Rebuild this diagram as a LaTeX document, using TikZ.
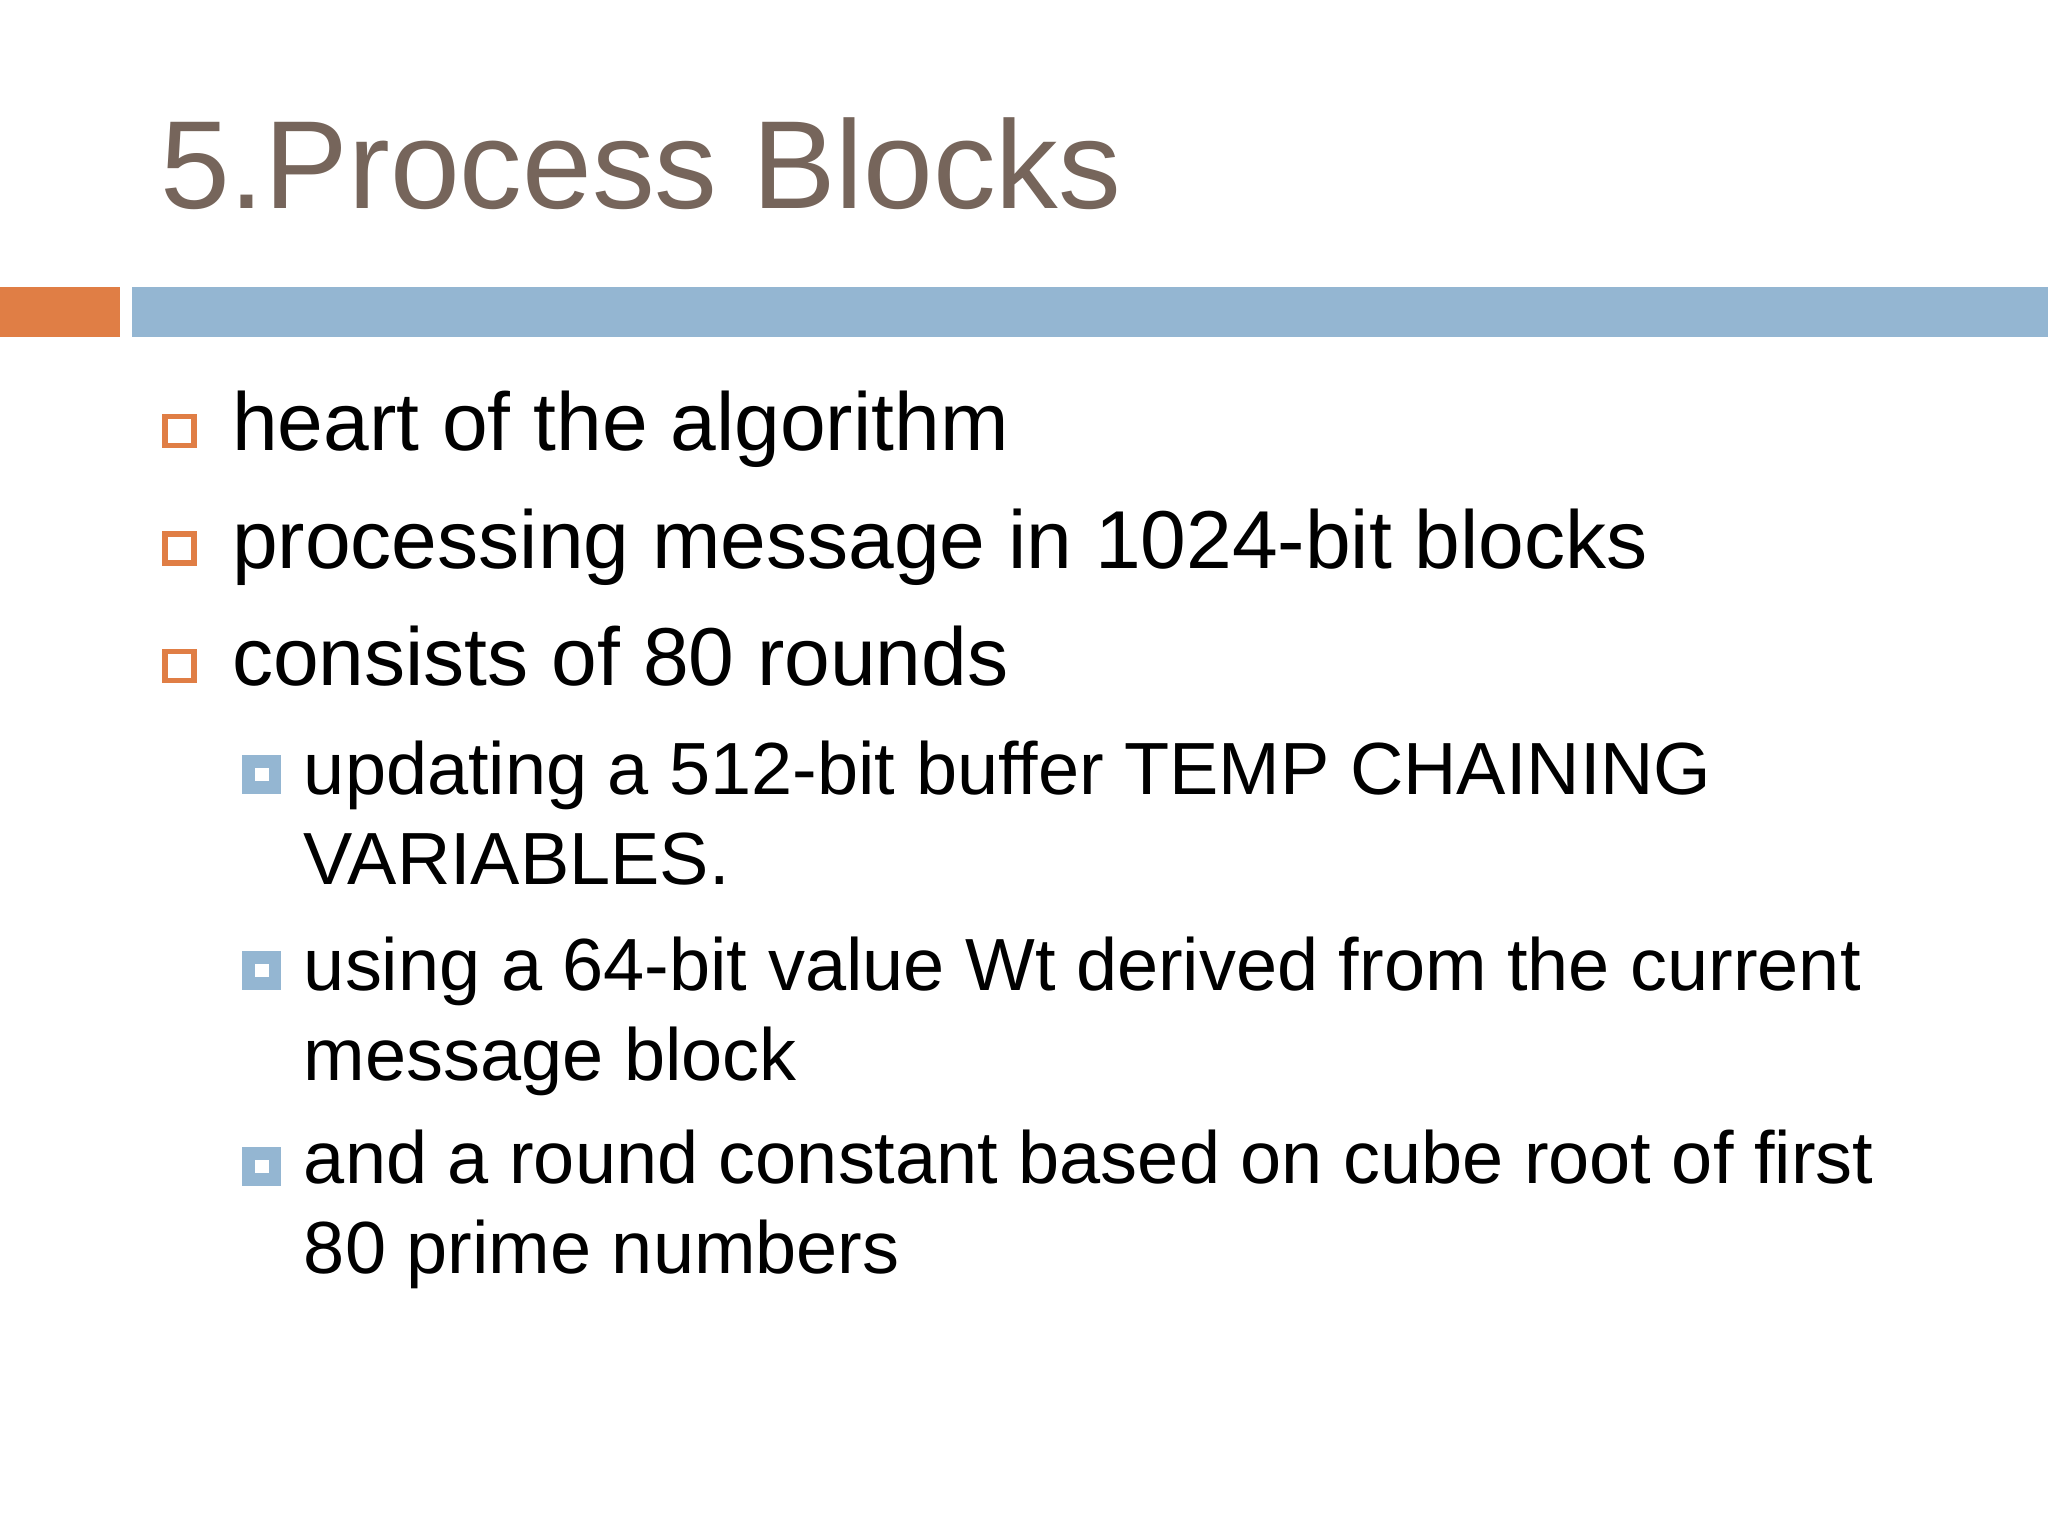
\documentclass[tikz,border=0pt]{standalone}
\usepackage{fontspec}
\setmainfont{Liberation Sans}
\definecolor{titlec}{HTML}{76655B}
\definecolor{orangec}{HTML}{E07E45}
\definecolor{bluec}{HTML}{94B6D2}
\begin{document}
\begin{tikzpicture}[x=1cm,y=1cm,
  lvlone/.style={anchor=base west,inner sep=0pt,font=\fontsize{17.9}{21}\selectfont},
  lvltwo/.style={anchor=base west,inner sep=0pt,align=left,font=\fontsize{16.1}{19.6}\selectfont},
  obullet/.style={draw=orangec,line width=1.2pt,minimum size=0.22cm,inner sep=0pt},
  bbullet/.style={draw=bluec,line width=2.8pt,minimum size=0.2cm,inner sep=0pt}]
\useasboundingbox (0,0) rectangle (15.68,11.76);
\fill[white] (0,0) rectangle (15.68,11.76);
\node[anchor=base west,inner sep=0pt,text=titlec,font=\fontsize{27.3}{32}\selectfont] (title) at (1.22,10.16) {5.Process Blocks};
\fill[orangec] (0,9.18) rectangle (0.92,9.56);
\fill[bluec] (1.01,9.18) rectangle (15.68,9.56);
\node[obullet] (b1) at (1.375,8.46) {};
\node[lvlone] (t1) at (1.77,8.31) {heart of the algorithm};
\node[obullet] (b2) at (1.375,7.56) {};
\node[lvlone] (t2) at (1.77,7.41) {processing message in 1024-bit blocks};
\node[obullet] (b3) at (1.375,6.66) {};
\node[lvlone] (t3) at (1.77,6.51) {consists of 80 rounds};
\node[bbullet] (s1) at (2.005,5.83) {};
\node[lvltwo] (u1) at (2.32,4.99) {updating a 512-bit buffer TEMP CHAINING\\VARIABLES.};
\node[bbullet] (s2) at (2.005,4.33) {};
\node[lvltwo] (u2) at (2.32,3.49) {using a 64-bit value Wt derived from the current\\message block};
\node[bbullet] (s3) at (2.005,2.83) {};
\node[lvltwo] (u3) at (2.32,2.01) {and a round constant based on cube root of first\\80 prime numbers};
\end{tikzpicture}
\end{document}
